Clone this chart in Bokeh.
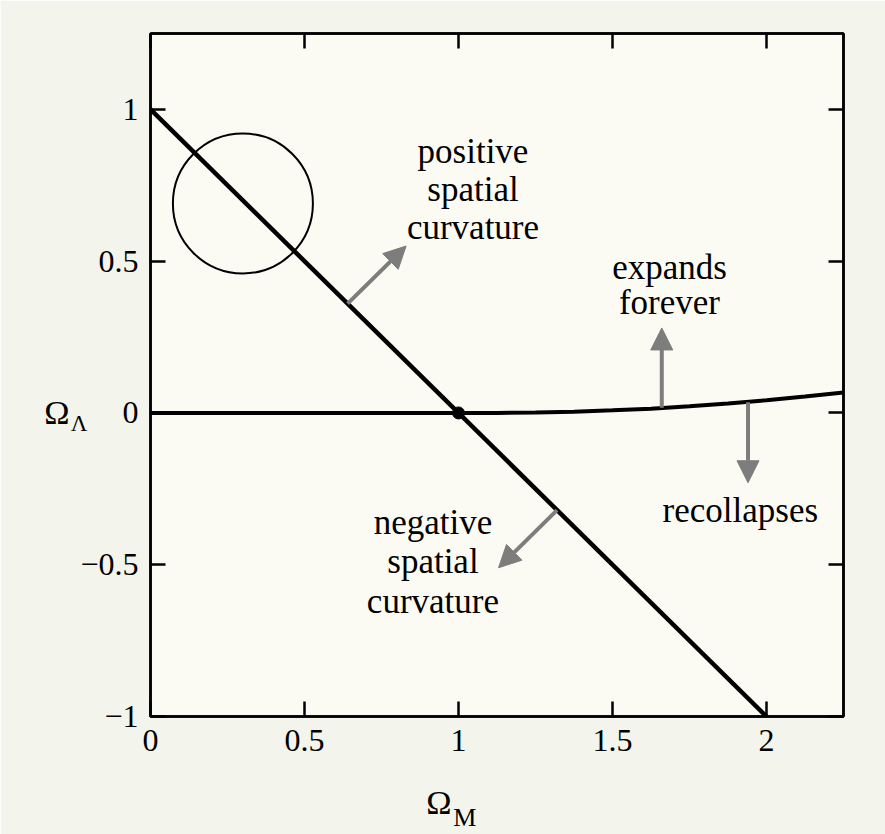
from bokeh.plotting import figure
from bokeh.models import LinearAxis, FixedTicker, Arrow, NormalHead, Label
from bokeh.embed import file_html
from bokeh.resources import INLINE

# Flat-universe line: Omega_Lambda = 1 - Omega_M
FLAT_OM = [0.0, 2.0]
FLAT_OL = [1.0, -1.0]

# Boundary between eternal expansion and recollapse
CURVE_OM = [0.0, 0.5, 1.0, 1.125, 1.25, 1.375, 1.5, 1.625, 1.75, 1.875, 2.0, 2.125, 2.25]
CURVE_OL = [0.0, 0.0, 0.0, 0.0002, 0.0015, 0.004, 0.0086, 0.014, 0.022, 0.031, 0.042, 0.054, 0.067]

# Critical point where both curves meet
POINT_OM = [1.0]
POINT_OL = [0.0]

# Sketch of a closed (spherical) geometry
SPHERE_OM = [0.30]
SPHERE_OL = [0.69]

X_TICKS = [0, 0.5, 1, 1.5, 2]
X_TICK_LABELS = ["0", "0.5", "1", "1.5", "2"]
Y_TICKS = [-1, -0.5, 0, 0.5, 1]
Y_TICK_LABELS = ["\u22121", "\u22120.5", "0", "0.5", "1"]

# Arrow start/end points (Omega_M, Omega_Lambda)
ARROWS = {
    "positive": ((0.64, 0.36), (0.83, 0.55)),
    "negative": ((1.32, -0.32), (1.13, -0.51)),
    "expands": ((1.66, 0.017), (1.66, 0.28)),
    "recollapses": ((1.94, 0.035), (1.94, -0.23)),
}

SERIF = "Liberation Serif"

p = figure(width=885, height=834, x_range=(0, 2.25), y_range=(-1, 1.25),
           output_backend="svg", toolbar_location=None,
           min_border_left=150, min_border_right=42,
           min_border_top=33, min_border_bottom=117)
p.border_fill_color = "#f3f5ec"
p.background_fill_color = "#fbfbf4"
p.outline_line_color = "black"
p.outline_line_width = 2.5
p.xgrid.visible = False
p.ygrid.visible = False

main_x = p.below[0]
main_y = p.left[0]

# Mirror axes on top and right carry ticks only
top_axis = LinearAxis()
right_axis = LinearAxis()
p.add_layout(top_axis, "above")
p.add_layout(right_axis, "right")

x_axes = [main_x, top_axis]
y_axes = [main_y, right_axis]
for ax in x_axes:
    ax.ticker = FixedTicker(ticks=X_TICKS)
    ax.major_label_overrides = dict(zip(X_TICKS, X_TICK_LABELS))
for ax in y_axes:
    ax.ticker = FixedTicker(ticks=Y_TICKS)
    ax.major_label_overrides = dict(zip(Y_TICKS, Y_TICK_LABELS))

for ax in x_axes + y_axes:
    ax.axis_line_color = "black"
    ax.axis_line_width = 2.5
    ax.major_tick_line_color = "black"
    ax.major_tick_line_width = 2.5
    ax.major_tick_in = 15
    ax.major_tick_out = 0
    ax.minor_tick_line_color = None
    ax.major_label_text_font = SERIF
    ax.major_label_text_font_size = "32px"
    ax.major_label_text_color = "black"

main_x.major_label_standoff = 13
main_y.major_label_standoff = 12
for ax in (top_axis, right_axis):
    ax.major_label_text_font_size = "1px"
    ax.major_label_text_color = None
    ax.major_label_standoff = 0


# Axis titles Omega_M / Omega_Lambda, built from label-only axes so the
# subscript can sit at its own size and position next to the Omega.
def title_axis(side, pos, text, size, standoff):
    ax = LinearAxis(ticker=FixedTicker(ticks=[pos]),
                    major_label_overrides={pos: text},
                    axis_line_color=None, major_tick_line_color=None,
                    minor_tick_line_color=None,
                    major_label_text_font=SERIF,
                    major_label_text_font_size=size,
                    major_label_text_color="black",
                    major_label_standoff=standoff,
                    major_tick_in=0, major_tick_out=0)
    p.add_layout(ax, side)
    return ax


title_axis("left", -0.035, "\u039b", "23px", -10)
title_axis("left", 0.0, "\u03a9", "34px", -2)
title_axis("below", 0.9365, "\u03a9", "34px", 30)
title_axis("below", 1.0207, "M", "26px", -21)

# Curves
p.line(CURVE_OM, CURVE_OL, line_color="black", line_width=4)
p.line(FLAT_OM, FLAT_OL, line_color="black", line_width=4.5)
p.scatter(POINT_OM, POINT_OL, size=12, color="black")
p.scatter(SPHERE_OM, SPHERE_OL, size=140, marker="circle",
          fill_color=None, line_color="black", line_width=2)

# Direction arrows
ARROW_GREY = "#7d7d7d"
for (x0, y0), (x1, y1) in ARROWS.values():
    p.add_layout(Arrow(x_start=x0, y_start=y0, x_end=x1, y_end=y1,
                       line_color=ARROW_GREY, line_width=4,
                       end=NormalHead(size=22, fill_color=ARROW_GREY,
                                      line_color=ARROW_GREY, line_width=1)))


def note(x, y, text):
    p.add_layout(Label(x=x, y=y, text=text, text_font=SERIF,
                       text_font_size="35px", text_align="center",
                       text_baseline="middle", text_color="black"))


for i, line in enumerate(["positive", "spatial", "curvature"]):
    note(1.047, 0.862 - 0.125 * i, line)
for i, line in enumerate(["negative", "spatial", "curvature"]):
    note(0.917, -0.36 - 0.13 * i, line)
note(1.685, 0.48, "expands")
note(1.685, 0.365, "forever")
note(1.915, -0.32, "recollapses")

open("out.html", "w").write(file_html(p, INLINE))
